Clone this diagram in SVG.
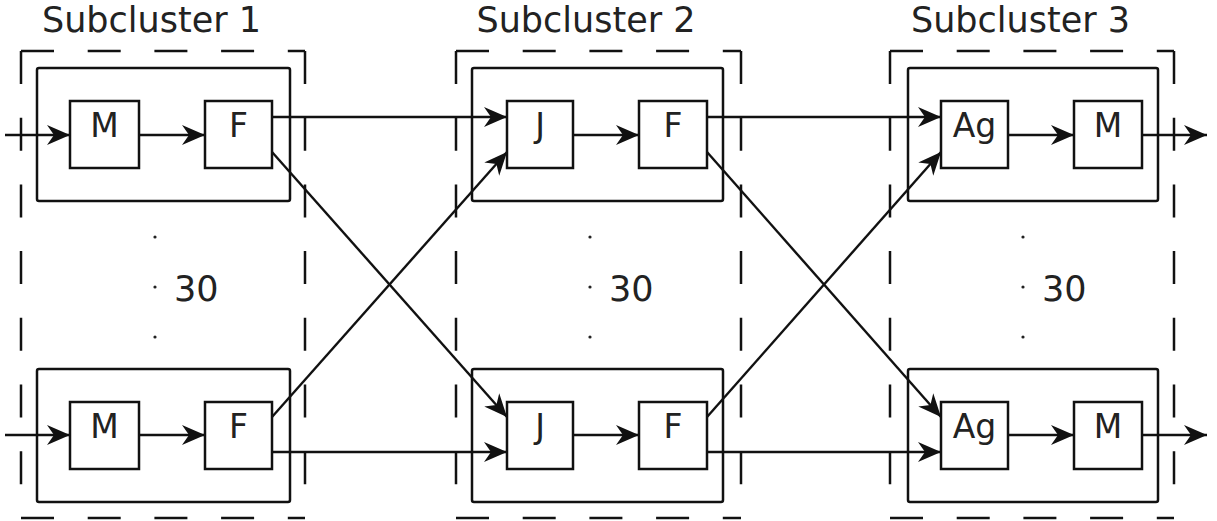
<svg xmlns="http://www.w3.org/2000/svg" width="1217" height="521" viewBox="0 0 1217 521">
<defs>
<marker id="ah" markerUnits="userSpaceOnUse" markerWidth="26" markerHeight="22" refX="23" refY="11" orient="auto"><path d="M0,1 L23,11 L0,21 L7,11 Z" fill="#111"/></marker>
</defs>
<style>
.cl{fill:none;stroke:#111;stroke-width:2.5;stroke-dasharray:33 33.7}
.rep{fill:none;stroke:#111;stroke-width:2.5}
.box{fill:#fff;stroke:#111;stroke-width:2.5}
.t{font-family:"DejaVu Sans",sans-serif;fill:#222}
.title{font-size:35px;text-anchor:middle}
.lbl{font-size:33px;text-anchor:middle}
.cnt{font-size:35px}
.c{fill:none;stroke:#111;stroke-width:2.4;marker-end:url(#ah)}
.dot{fill:#222}
</style>
<rect width="1217" height="521" fill="#fff"/>

<g id="subcluster1">
<path class="cl" d="M21,51H305M305,51V518M21,51V518M21,518H305"/>
<text class="t title" x="151.5" y="32">Subcluster 1</text>
<rect class="rep" x="37" y="68" width="253" height="133" rx="2"/>
<rect class="rep" x="37" y="369" width="253" height="133" rx="2"/>
<circle class="dot" cx="155" cy="237" r="1.6"/><circle class="dot" cx="155" cy="287" r="1.6"/><circle class="dot" cx="155" cy="337" r="1.6"/>
<text class="t cnt" x="174" y="301">30</text>
</g>
<g id="subcluster2">
<path class="cl" d="M456,51H741M741,51V518M456,51V518M456,518H741"/>
<text class="t title" x="586" y="32">Subcluster 2</text>
<rect class="rep" x="472" y="68" width="251" height="133" rx="2"/>
<rect class="rep" x="472" y="369" width="251" height="133" rx="2"/>
<circle class="dot" cx="590" cy="237" r="1.6"/><circle class="dot" cx="590" cy="287" r="1.6"/><circle class="dot" cx="590" cy="337" r="1.6"/>
<text class="t cnt" x="609" y="301">30</text>
</g>
<g id="subcluster3">
<path class="cl" d="M890,51H1174M1174,51V518M890,51V518M890,518H1174"/>
<text class="t title" x="1020.5" y="32">Subcluster 3</text>
<rect class="rep" x="908" y="68" width="250" height="133" rx="2"/>
<rect class="rep" x="908" y="369" width="250" height="133" rx="2"/>
<circle class="dot" cx="1023" cy="237" r="1.6"/><circle class="dot" cx="1023" cy="287" r="1.6"/><circle class="dot" cx="1023" cy="337" r="1.6"/>
<text class="t cnt" x="1042" y="301">30</text>
</g>

<g id="connectors">
<line class="c" x1="5" y1="135" x2="70" y2="135"/>
<line class="c" x1="139" y1="135" x2="205" y2="135"/>
<line class="c" x1="272" y1="117" x2="507" y2="117"/>
<line class="c" x1="272" y1="152" x2="507" y2="417"/>
<line class="c" x1="5" y1="435" x2="70" y2="435"/>
<line class="c" x1="139" y1="435" x2="205" y2="435"/>
<line class="c" x1="272" y1="417" x2="507" y2="152"/>
<line class="c" x1="272" y1="452" x2="507" y2="452"/>
<line class="c" x1="573" y1="135" x2="639" y2="135"/>
<line class="c" x1="573" y1="435" x2="639" y2="435"/>
<line class="c" x1="707" y1="117" x2="941" y2="117"/>
<line class="c" x1="707" y1="152" x2="941" y2="417"/>
<line class="c" x1="707" y1="417" x2="941" y2="152"/>
<line class="c" x1="707" y1="452" x2="941" y2="452"/>
<line class="c" x1="1008" y1="135" x2="1074" y2="135"/>
<line class="c" x1="1008" y1="435" x2="1074" y2="435"/>
<line class="c" x1="1142" y1="135" x2="1207" y2="135"/>
<line class="c" x1="1142" y1="435" x2="1207" y2="435"/>
</g>

<g id="m1a"><rect class="box" x="70" y="101" width="69" height="67"/><text class="t lbl" x="104.5" y="137">M</text></g>
<g id="f1a"><rect class="box" x="205" y="101" width="67" height="67"/><text class="t lbl" x="238.5" y="137">F</text></g>
<g id="m1b"><rect class="box" x="70" y="402" width="69" height="67"/><text class="t lbl" x="104.5" y="438">M</text></g>
<g id="f1b"><rect class="box" x="205" y="402" width="67" height="67"/><text class="t lbl" x="238.5" y="438">F</text></g>
<g id="j2a"><rect class="box" x="507" y="101" width="66" height="67"/><text class="t lbl" x="540" y="137">J</text></g>
<g id="f2a"><rect class="box" x="639" y="101" width="68" height="67"/><text class="t lbl" x="673" y="137">F</text></g>
<g id="j2b"><rect class="box" x="507" y="402" width="66" height="67"/><text class="t lbl" x="540" y="438">J</text></g>
<g id="f2b"><rect class="box" x="639" y="402" width="68" height="67"/><text class="t lbl" x="673" y="438">F</text></g>
<g id="ag3a"><rect class="box" x="941" y="101" width="67" height="67"/><text class="t lbl" x="974.5" y="137">Ag</text></g>
<g id="m3a"><rect class="box" x="1074" y="101" width="68" height="67"/><text class="t lbl" x="1108" y="137">M</text></g>
<g id="ag3b"><rect class="box" x="941" y="402" width="67" height="67"/><text class="t lbl" x="974.5" y="438">Ag</text></g>
<g id="m3b"><rect class="box" x="1074" y="402" width="68" height="67"/><text class="t lbl" x="1108" y="438">M</text></g>
</svg>
